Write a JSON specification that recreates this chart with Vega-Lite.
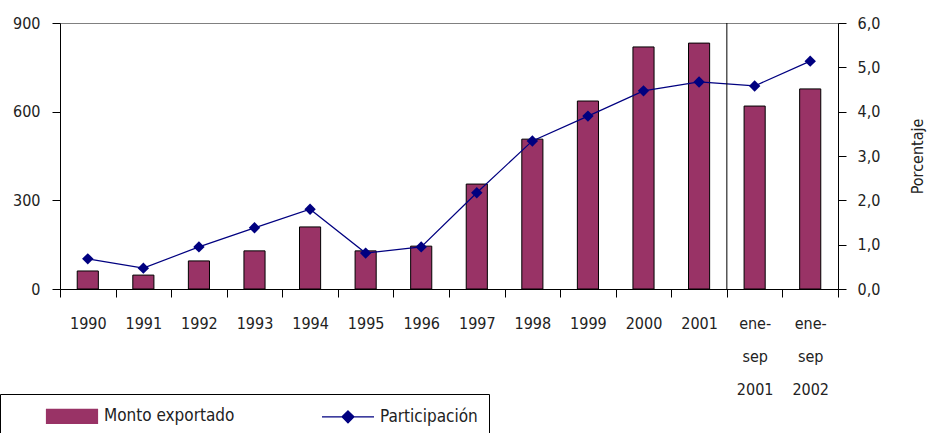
{
  "$schema": "https://vega.github.io/schema/vega-lite/v6.json",
  "width": 778,
  "height": 266,
  "autosize": {"type": "none"},
  "padding": {"left": 60, "top": 23, "right": 90, "bottom": 144},
  "background": "white",
  "config": {
    "font": "'DejaVu Sans Condensed', 'Liberation Sans', sans-serif",
    "view": {"stroke": "#808080", "strokeWidth": 1},
    "axis": {
      "domainColor": "#000",
      "tickColor": "#000",
      "labelColor": "#222",
      "titleColor": "#222",
      "labelFontSize": 16,
      "titleFontSize": 16,
      "titleFontWeight": "normal",
      "grid": false,
      "tickSize": 8
    },
    "legend": {"labelFontSize": 17, "labelColor": "#222"}
  },
  "data": {
    "values": [
      {"periodo": "1990", "monto": 61, "part": 0.68},
      {"periodo": "1991", "monto": 47, "part": 0.47},
      {"periodo": "1992", "monto": 95, "part": 0.95},
      {"periodo": "1993", "monto": 129, "part": 1.38},
      {"periodo": "1994", "monto": 210, "part": 1.8},
      {"periodo": "1995", "monto": 129, "part": 0.81},
      {"periodo": "1996", "monto": 145, "part": 0.95},
      {"periodo": "1997", "monto": 355, "part": 2.17},
      {"periodo": "1998", "monto": 507, "part": 3.34},
      {"periodo": "1999", "monto": 636, "part": 3.9},
      {"periodo": "2000", "monto": 819, "part": 4.47},
      {"periodo": "2001", "monto": 832, "part": 4.67},
      {"periodo": "ene-sep 2001", "monto": 619, "part": 4.58},
      {"periodo": "ene-sep 2002", "monto": 677, "part": 5.14}
    ]
  },
  "encoding": {
    "x": {
      "field": "periodo",
      "type": "nominal",
      "sort": null,
      "scale": {"paddingInner": 0, "paddingOuter": 0},
      "axis": {
        "title": null,
        "labelAngle": 0,
        "tickBand": "extent",
        "labelPadding": 18,
        "labelBaseline": "top",
        "labelLineHeight": 33,
        "labelExpr": "indexof(datum.label, 'ene-sep') === 0 ? ['ene-', 'sep', slice(datum.label, 8)] : datum.label"
      }
    }
  },
  "layer": [
    {
      "mark": {"type": "bar", "stroke": "#000", "strokeWidth": 1, "width": {"band": 0.38}},
      "encoding": {
        "y": {
          "field": "monto",
          "type": "quantitative",
          "scale": {"domain": [0, 900]},
          "axis": {"orient": "left", "values": [0, 300, 600, 900], "title": null, "labelPadding": 12, "format": "d"}
        },
        "color": {
          "datum": "Monto exportado",
          "type": "nominal",
          "scale": {"domain": ["Monto exportado", "Participación"], "range": ["#993366", "#000080"]},
          "legend": {
            "orient": "none",
            "legendX": -60,
            "legendY": 371,
            "direction": "horizontal",
            "title": null,
            "strokeColor": "#000",
            "padding": 11,
            "symbolSize": 400,
            "columnPadding": 52,
            "symbolOffset": 50,
            "labelOffset": 21,
            "symbolType": {"expr": "datum.value === 'Participación' ? 'M-2.6,0H2.6M0,-0.6L0.6,0L0,0.6L-0.6,0Z' : 'M-2.55,-0.7H2.55V0.7H-2.55Z'"},
            "symbolStrokeColor": {"expr": "datum.value === 'Participación' ? '#000080' : '#000'"},
            "symbolStrokeWidth": 1.2
          }
        }
      }
    },
    {
      "mark": {"type": "line", "strokeWidth": 1.2, "point": {"shape": "diamond", "size": 130, "filled": true}},
      "encoding": {
        "y": {
          "field": "part",
          "type": "quantitative",
          "scale": {"domain": [0, 6]},
          "axis": {
            "orient": "right",
            "values": [0, 1, 2, 3, 4, 5, 6],
            "title": "Porcentaje",
            "titleAngle": 270,
            "labelPadding": 11,
            "titlePadding": 46,
            "labelExpr": "replace(format(datum.value, '.1f'), '.', ',')"
          }
        },
        "color": {"datum": "Participación", "type": "nominal"}
      }
    },
    {
      "transform": [{"filter": "datum.periodo === 'ene-sep 2001'"}],
      "mark": {"type": "rule", "color": "#000", "strokeWidth": 1},
      "encoding": {"x": {"field": "periodo", "type": "nominal", "sort": null, "bandPosition": 0}}
    }
  ],
  "resolve": {"scale": {"y": "independent"}}
}
